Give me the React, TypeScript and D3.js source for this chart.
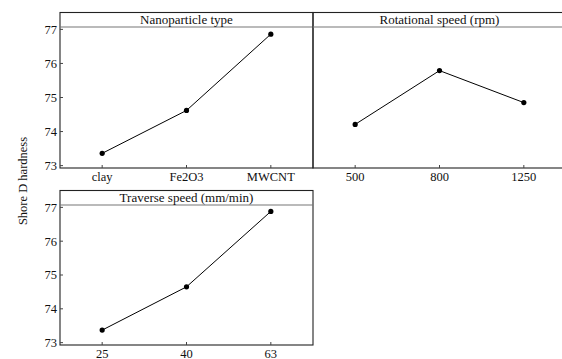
import React from 'react';
import * as d3 from 'd3';

// main effects of each factor on Shore D hardness
const nanoparticleTypes = ['clay', 'Fe2O3', 'MWCNT'];
const nanoparticleMeans = [73.36, 74.62, 76.86];

const rotationalSpeeds = ['500', '800', '1250'];
const rotationalMeans = [74.21, 75.79, 74.85];

const traverseSpeeds = ['25', '40', '63'];
const traverseMeans = [73.37, 74.65, 76.88];

const yTicks = [73, 74, 75, 76, 77];

const W = 562;
const H = 359;
const panelW = 253;
const headerH = 14.5;
const font = "'Liberation Serif', 'DejaVu Serif', serif";

const panels = [
  { title: 'Nanoparticle type', cats: nanoparticleTypes, vals: nanoparticleMeans, x: 60, top: 12.5, bottom: 168, yAxis: true },
  { title: 'Rotational speed (rpm)', cats: rotationalSpeeds, vals: rotationalMeans, x: 313, top: 12.5, bottom: 168, yAxis: false },
  { title: 'Traverse speed (mm/min)', cats: traverseSpeeds, vals: traverseMeans, x: 60, top: 190.5, bottom: 345, yAxis: true },
];

function Panel({ p }) {
  const x = d3.scalePoint().domain(p.cats).range([p.x, p.x + panelW]).padding(0.5);
  const y = d3.scaleLinear().domain([72.93, 77.07]).range([p.bottom, p.top + headerH]);
  const pts = p.cats.map((c, i) => [x(c), y(p.vals[i])]);
  const line = d3.line();
  return (
    <g>
      <rect x={p.x} y={p.top} width={panelW} height={p.bottom - p.top} fill="none" stroke="#222" strokeWidth={1.1} />
      <line x1={p.x} x2={p.x + panelW} y1={p.top + headerH} y2={p.top + headerH} stroke="#777" strokeWidth={1.1} />
      <text x={p.x + panelW / 2} y={p.top + headerH - 3} textAnchor="middle" fontSize={13} style={{ fontFamily: font }} fill="#111">{p.title}</text>
      {p.yAxis && yTicks.map(t => (
        <g key={t}>
          <line x1={p.x} x2={p.x + 3} y1={y(t)} y2={y(t)} stroke="#444" />
          <text x={p.x - 3} y={y(t)} dy="0.35em" textAnchor="end" fontSize={12.5} style={{ fontFamily: font }} fill="#111">{t}</text>
        </g>
      ))}
      {p.cats.map(c => (
        <g key={c}>
          <line x1={x(c)} x2={x(c)} y1={p.bottom} y2={p.bottom - 3} stroke="#444" />
          <text x={x(c)} y={p.bottom + 13} textAnchor="middle" fontSize={12.5} style={{ fontFamily: font }} fill="#111">{c}</text>
        </g>
      ))}
      <path d={line(pts)} fill="none" stroke="#000" strokeWidth={1} />
      {pts.map((d, i) => <circle key={i} cx={d[0]} cy={d[1]} r={2.6} fill="#000" />)}
    </g>
  );
}

export default function App() {
  return (
    <svg width={W} height={H} style={{ position: 'absolute', left: 0, top: 0, background: '#fff' }}>
      {panels.map(p => <Panel key={p.title} p={p} />)}
      <text transform={`translate(27,181) rotate(-90)`} textAnchor="middle" fontSize={12.5} style={{ fontFamily: font }} fill="#111">Shore D hardness</text>
    </svg>
  );
}
